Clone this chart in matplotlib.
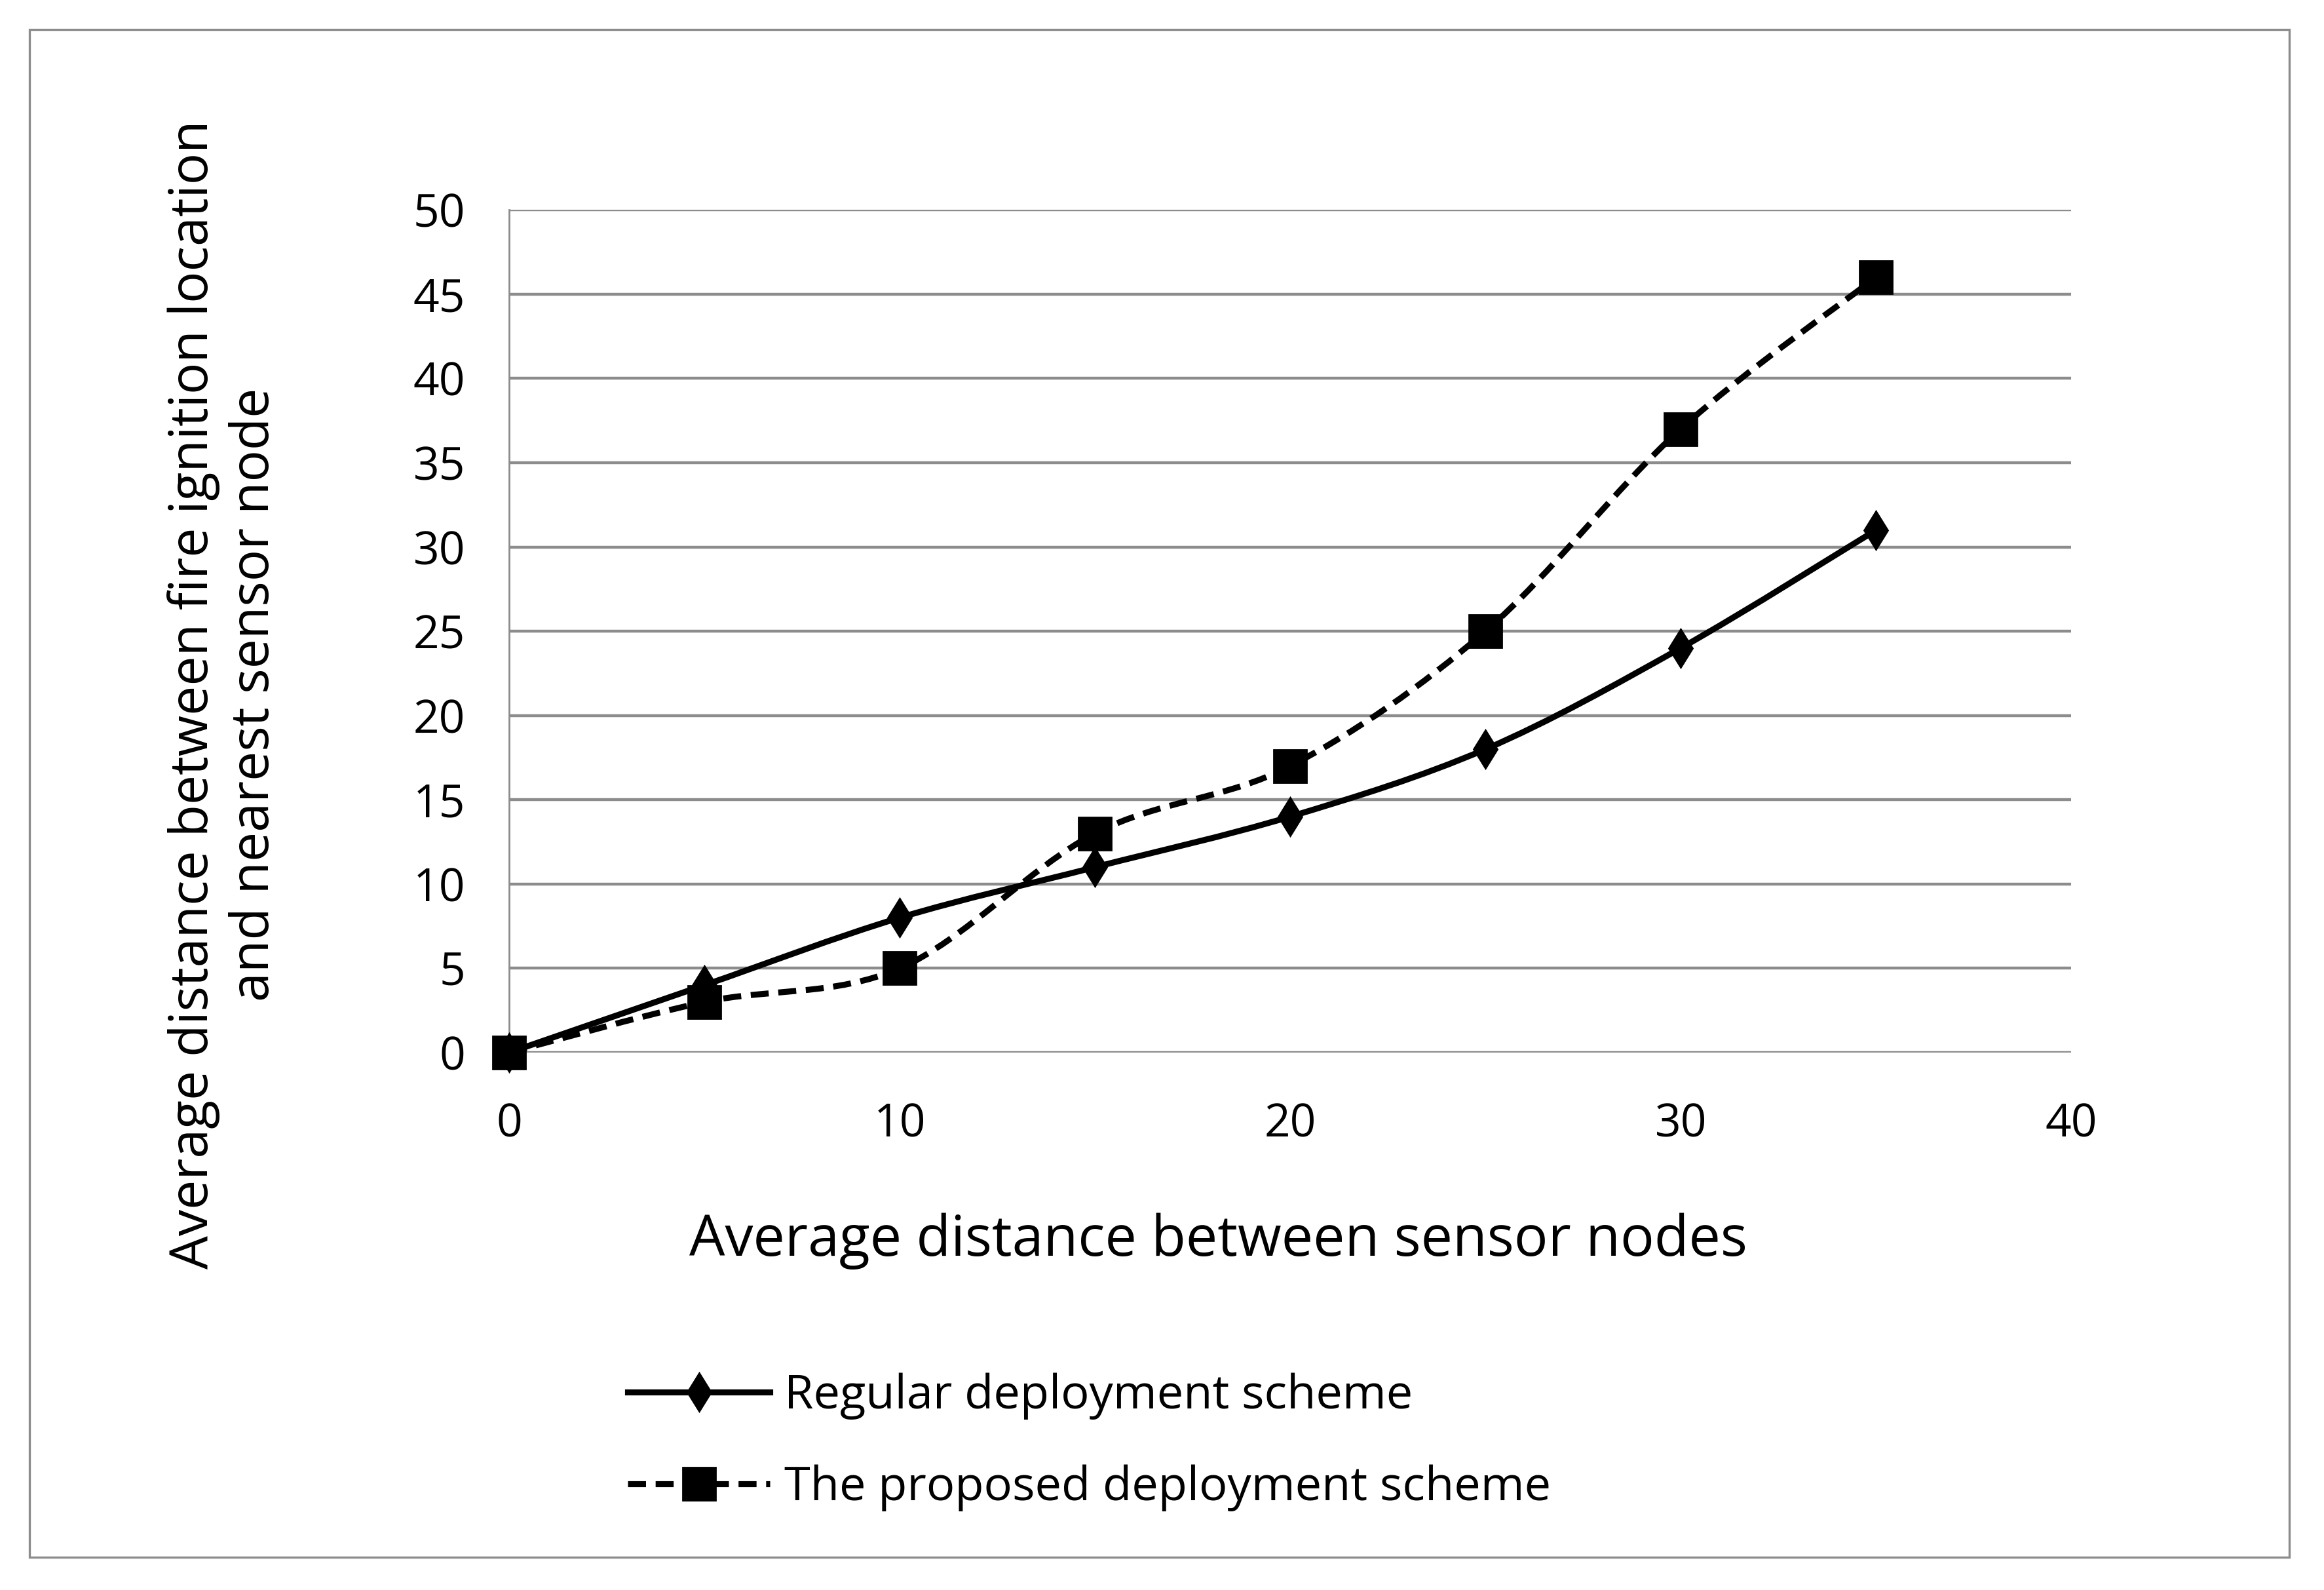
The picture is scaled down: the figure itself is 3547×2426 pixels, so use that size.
import matplotlib.pyplot as plt
import numpy as np
from matplotlib.path import Path
from matplotlib.patches import PathPatch, Rectangle
from matplotlib.lines import Line2D

plt.rcParams['font.family'] = ['Open Sans', 'DejaVu Sans']

node_dist = [0, 5, 10, 15, 20, 25, 30, 35]
regular = [0, 4, 8, 11, 14, 18, 24, 31]
proposed = [0, 3, 5, 13, 17, 25, 37, 46]
x_ticks = [0, 10, 20, 30, 40]
y_ticks = [0, 5, 10, 15, 20, 25, 30, 35, 40, 45, 50]


def smooth_path(xs, ys):
    # Excel-style smoothed line: Catmull-Rom segments as cubic Bezier curves
    p = np.column_stack([xs, ys]).astype(float)
    n = len(p)
    verts = [p[0]]
    codes = [Path.MOVETO]
    for i in range(n - 1):
        p0 = p[i - 1] if i > 0 else p[i]
        p3 = p[i + 2] if i + 2 < n else p[i + 1]
        c1 = p[i] + (p[i + 1] - p0) / 6.0
        c2 = p[i + 1] - (p3 - p[i]) / 6.0
        verts += [c1, c2, p[i + 1]]
        codes += [Path.CURVE4] * 3
    return Path(verts, codes)


fig = plt.figure(figsize=(17.74, 12.13), dpi=200)
ax = fig.add_axes([0.219, 0.338, 0.672, 0.530])

ax.set_xlim(0, 40)
ax.set_ylim(0, 50)
ax.set_xticks(x_ticks)
ax.set_yticks(y_ticks)
ax.tick_params(length=0, labelsize=25)
ax.tick_params(axis='y', pad=24)
ax.tick_params(axis='x', pad=27)
ax.grid(axis='y', color='#8c8c8c', lw=1.6)
ax.set_axisbelow(True)
for s in ['top', 'right', 'bottom']:
    ax.spines[s].set_visible(False)
ax.spines['left'].set_color('#8c8c8c')
ax.spines['left'].set_linewidth(1.0)

ax.add_patch(PathPatch(smooth_path(node_dist, regular), fill=False,
                       edgecolor='black', lw=3.3, zorder=3, clip_on=False))
ax.add_patch(PathPatch(smooth_path(node_dist, proposed), fill=False,
                       edgecolor='black', lw=3.3, ls=(0, (3, 1.6)), zorder=3, clip_on=False))
ax.plot(node_dist, regular, ls='none', marker='d', ms=15, color='black', zorder=4, clip_on=False)
ax.plot(node_dist, proposed, ls='none', marker='s', ms=18, color='black', zorder=4, clip_on=False)

ax.set_xlabel('Average distance between sensor nodes', fontsize=31)
ax.xaxis.set_label_coords(0.454, -0.19)
ax.set_ylabel('Average distance between fire ignition location\nand nearest sensor node',
              fontsize=29, linespacing=1.2)
ax.yaxis.set_label_coords(-0.146, 0.425)

handles = [
    Line2D([], [], color='black', lw=3.3, marker='d', ms=15),
    Line2D([], [], color='black', lw=3.3, ls=(0, (3, 1.6)), marker='s', ms=18),
]
fig.legend(handles, ['Regular deployment scheme', 'The proposed deployment scheme'],
           loc='upper left', bbox_to_anchor=(0.262, 0.1485), frameon=False,
           fontsize=26, handlelength=3.0, handletextpad=0.3, labelspacing=0.95,
           borderaxespad=0)

fig.patches.append(Rectangle((0.0128, 0.0205), 0.972, 0.961, transform=fig.transFigure,
                             fill=False, edgecolor='#8c8c8c', lw=1.2))

fig.savefig('out.png', dpi=200)
